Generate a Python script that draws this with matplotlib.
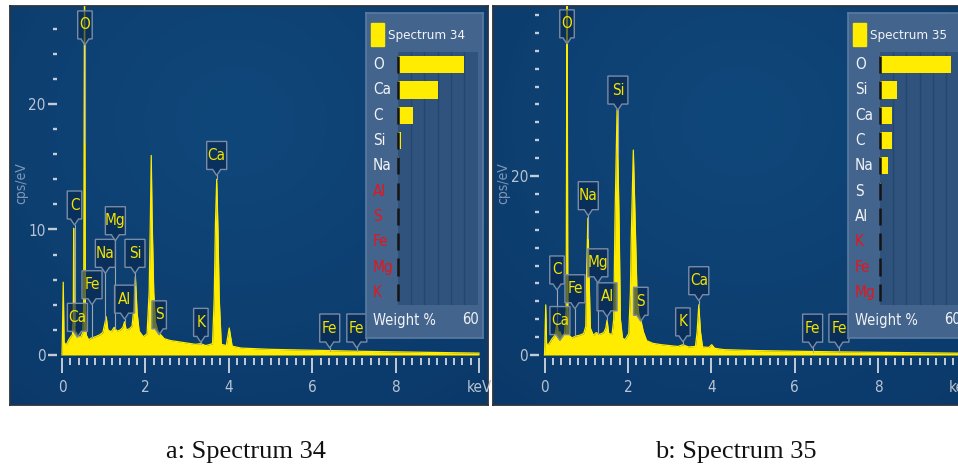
import matplotlib
matplotlib.use('Agg')
import matplotlib.pyplot as plt
import numpy as np
from matplotlib import font_manager
from matplotlib.patches import Polygon, Rectangle

# narrow UI font if the condensed DejaVu face is there, else Liberation Sans
_cond = font_manager.findfont(font_manager.FontProperties(family='DejaVu Sans', stretch='condensed'))
if 'Condensed' in _cond:
    plt.rcParams['font.family'] = ['DejaVu Sans']
    plt.rcParams['font.stretch'] = 'condensed'
else:
    plt.rcParams['font.family'] = ['Liberation Sans', 'DejaVu Sans']

W, H = 958, 469

# ---- Spectrum 34 (keV, cps/eV) ----
energy_34 = [0.00, 0.01, 0.03, 0.05, 0.10, 0.16, 0.22, 0.25, 0.27, 0.28, 0.29, 0.31,
             0.34, 0.38, 0.44, 0.50, 0.52, 0.54, 0.56, 0.58, 0.64, 0.70, 0.80, 0.90,
             0.98, 1.02, 1.06, 1.10, 1.18, 1.25, 1.32, 1.40, 1.46, 1.50, 1.54, 1.62,
             1.68, 1.72, 1.76, 1.80, 1.85, 1.95, 2.04, 2.09, 2.12, 2.14, 2.16, 2.20,
             2.24, 2.30, 2.37, 2.45, 2.60, 2.80, 3.00, 3.20, 3.32, 3.45, 3.61, 3.65,
             3.68, 3.71, 3.74, 3.77, 3.82, 3.94, 4.01, 4.08, 4.30, 5.00, 6.00, 6.43,
             7.06, 8.00, 9.00, 10.0]
cps_34 = [0.0, 1.5, 5.8, 1.0, 0.8, 1.2, 1.5, 1.6, 3.0, 10.1, 3.0, 1.8,
          1.8, 1.5, 1.4, 1.8, 4.0, 30.0, 4.0, 1.6, 1.2, 1.35, 1.45, 1.6,
          1.8, 2.4, 3.05, 2.0, 1.85, 2.2, 1.9, 2.0, 2.2, 2.65, 2.0, 2.1,
          2.3, 3.6, 6.25, 3.4, 1.9, 1.45, 1.7, 5.0, 11.0, 15.9, 11.0, 5.0,
          2.6, 1.9, 1.6, 1.3, 1.15, 1.05, 0.95, 0.85, 0.9, 0.75, 0.9, 4.5,
          10.5, 14.0, 10.0, 4.5, 0.85, 0.75, 2.15, 0.7, 0.55, 0.45, 0.38, 0.35,
          0.3, 0.25, 0.2, 0.15]

# ---- Spectrum 35 ----
energy_35 = [0.00, 0.01, 0.03, 0.05, 0.10, 0.18, 0.25, 0.30, 0.33, 0.37, 0.42, 0.48,
             0.52, 0.54, 0.56, 0.59, 0.66, 0.74, 0.84, 0.94, 0.99, 1.01, 1.04, 1.07,
             1.10, 1.17, 1.24, 1.32, 1.42, 1.47, 1.50, 1.54, 1.62, 1.66, 1.69, 1.74,
             1.79, 1.82, 1.87, 1.93, 2.02, 2.06, 2.08, 2.13, 2.19, 2.22, 2.26, 2.31,
             2.37, 2.45, 2.60, 2.80, 3.00, 3.20, 3.32, 3.45, 3.62, 3.66, 3.70, 3.74,
             3.79, 3.94, 4.01, 4.08, 4.30, 5.00, 6.00, 7.00, 8.00, 9.00, 10.0]
cps_35 = [0.0, 1.5, 5.6, 1.2, 1.2, 1.8, 2.2, 3.6, 2.4, 2.6, 2.0, 2.4,
          5.0, 45.0, 5.0, 2.2, 1.9, 2.1, 2.2, 2.4, 3.2, 9.0, 15.3, 8.5,
          3.0, 2.2, 2.5, 2.3, 2.5, 3.0, 3.9, 2.4, 2.3, 4.0, 15.0, 27.4,
          14.5, 4.0, 1.9, 1.7, 2.4, 7.0, 13.0, 22.9, 12.0, 6.5, 4.6, 3.9,
          2.6, 1.6, 1.3, 1.15, 1.05, 0.95, 1.15, 0.9, 0.95, 2.6, 5.6, 2.6,
          0.9, 0.85, 1.15, 0.75, 0.6, 0.5, 0.42, 0.35, 0.3, 0.25, 0.2]

# ---- peak markers: element, box centre (keV), box centre (cps/eV) ----
marks_34 = ['O', 'C', 'Ca', 'Fe', 'Na', 'Mg', 'Al', 'Si', 'S', 'K', 'Ca', 'Fe', 'Fe']
mark_kev_34 = [0.55, 0.30, 0.37, 0.72, 1.04, 1.28, 1.50, 1.75, 2.33, 3.33, 3.71, 6.42, 7.07]
mark_y_34 = [26.3, 11.95, 3.0, 5.6, 8.1, 10.7, 4.45, 8.1, 3.2, 2.6, 15.9, 2.15, 2.15]

marks_35 = ['O', 'Si', 'Na', 'C', 'Mg', 'Fe', 'Al', 'S', 'Ca', 'K', 'Ca', 'Fe', 'Fe']
mark_kev_35 = [0.54, 1.76, 1.05, 0.30, 1.28, 0.73, 1.50, 2.31, 0.37, 3.32, 3.70, 6.43, 7.06]
mark_y_35 = [37.0, 29.6, 17.8, 9.5, 10.3, 7.4, 6.5, 6.0, 3.85, 3.7, 8.3, 3.0, 3.0]

# ---- weight % tables ----
wt_elem_34 = ['O', 'Ca', 'C', 'Si', 'Na', 'Al', 'S', 'Fe', 'Mg', 'K']
wt_34 = [50.0, 30.5, 11.7, 2.1, 0.6, 0, 0, 0, 0, 0]
flagged_34 = ['Al', 'S', 'Fe', 'Mg', 'K']

wt_elem_35 = ['O', 'Si', 'Ca', 'C', 'Na', 'S', 'Al', 'K', 'Fe', 'Mg']
wt_35 = [53.3, 13.2, 9.5, 9.5, 6.5, 1.2, 0.5, 0, 0, 0]
flagged_35 = ['K', 'Fe', 'Mg']

YELLOW = '#ffec00'
TICK_C = '#c3cbd6'
LAB_C = '#b9c4d2'
FS = 11

fig = plt.figure(figsize=(W / 100, H / 100), dpi=100)
fig.patch.set_facecolor('white')


def px_axes(l, t, r, b):
    return fig.add_axes([l / W, 1 - b / H, (r - l) / W, (b - t) / H])


def fig_xy(x, y):
    return x / W, 1 - y / H


def background(l, t, r, b, cx, cy):
    bg = px_axes(l, t, r, b)
    yy, xx = np.mgrid[0:int(b - t), 0:int(r - l)]
    rr = np.hypot(xx - cx, (yy - cy) * 1.1)
    k = np.clip(rr / 420, 0, 1)
    k = 0.6 * k + 0.4 * np.floor(k * 7) / 7
    inner = np.array([0x10, 0x47, 0x7a]) / 255
    outer = np.array([0x0a, 0x37, 0x68]) / 255
    img = inner[None, None, :] * (1 - k[..., None]) + outer[None, None, :] * k[..., None]
    bg.imshow(img, aspect='auto', interpolation='bilinear')
    bg.set_xticks([])
    bg.set_yticks([])
    for s in bg.spines.values():
        s.set_color('#2b3540')
        s.set_linewidth(1.3)


def panel(energy, cps, marks, mark_kev, mark_y, wt_elem, wt, flagged, title,
          zero_px, ppy, ymax_tick, ylabels, right_px, legend_left):
    ppx = 41.7
    base_px = 355
    l_px, t_px, b_px = zero_px - 5.2, 6, 358
    ax = px_axes(l_px, t_px, right_px, b_px)
    ax.set_facecolor('none')
    ax.set_xlim((l_px - zero_px) / ppx, (right_px - zero_px) / ppx)
    ax.set_ylim(-(b_px - base_px) / ppy, (base_px - t_px) / ppy)
    for s in ax.spines.values():
        s.set_visible(False)

    ax.fill_between(energy, 0, cps, color=YELLOW, lw=0, zorder=2)
    ax.plot(energy, cps, color=YELLOW, lw=0.9, zorder=2)

    ax.set_xticks([0, 2, 4, 6, 8, 10], ['0', '2', '4', '6', '8', 'keV'])
    ax.set_xticks(np.arange(0, 10.01, 0.2), minor=True)
    ax.set_yticks(ylabels, [str(v) for v in ylabels])
    ax.set_yticks(np.arange(0, ymax_tick + 0.1, 2), minor=True)
    ax.tick_params(axis='x', which='major', direction='out', length=11, width=1.4,
                   color=TICK_C, pad=5, labelsize=FS, labelcolor=LAB_C)
    ax.tick_params(axis='x', which='minor', direction='out', length=5, width=1.4, color=TICK_C)
    ax.tick_params(axis='y', which='major', direction='out', length=6.5, width=1.7,
                   color=TICK_C, pad=1.5, labelsize=FS, labelcolor=LAB_C)
    ax.tick_params(axis='y', which='minor', direction='out', length=3.2, width=1.7, color=TICK_C)

    # peak markers
    for name, e, yc in zip(marks, mark_kev, mark_y):
        bw = 9 + 5.5 * len(name)
        hw, hh = bw / 2 / ppx, 14 / ppy
        top, bot = yc + hh, yc - hh
        tip = bot - 6 / ppy
        pw = 4 / ppx
        verts = [(e - hw, top), (e + hw, top), (e + hw, bot), (e + pw, bot),
                 (e, tip), (e - pw, bot), (e - hw, bot)]
        ax.add_patch(Polygon(verts, closed=True, facecolor=(0.03, 0.15, 0.30, 0.62),
                             edgecolor='#7a8ca6', lw=1.0, zorder=4))
        ax.text(e, yc, name, color='#f4e400', ha='center', va='center',
                fontsize=FS, zorder=5)
        ys = np.interp(e, energy, cps)
        if ys < tip:
            ax.plot([e, e], [ys, tip], color='#9ea6ae', lw=0.8, zorder=3)

    # y label
    fig.text(*fig_xy(zero_px - 41, 183), 'cps/eV', rotation=90, color='#7f97b6',
             fontsize=10, ha='center', va='center')

    # legend box with weight %
    lg = px_axes(legend_left, 13, legend_left + 117, 338)
    lg.set_facecolor('#43648c')
    lg.set_xticks([])
    lg.set_yticks([])
    for s in lg.spines.values():
        s.set_color('#5b7ba2')
        s.set_linewidth(1.2)

    bx_l = legend_left + 31.7
    bx = px_axes(bx_l, 52, bx_l + 80, 305)
    bx.set_facecolor('#30537d')
    rows = np.arange(len(wt))
    bx.barh(rows, wt, height=0.68, color=YELLOW, zorder=3)
    bx.vlines(np.full(len(rows), 0.4), rows - 0.34, rows + 0.34, color='#141414',
              lw=1.8, zorder=4, clip_on=False)
    bx.set_xlim(0, 60)
    bx.set_ylim(len(wt) - 0.5, -0.5)
    bx.set_xticks(np.arange(10, 60, 10))
    bx.set_yticks([])
    bx.grid(axis='x', color='#24466f', lw=1.0)
    bx.tick_params(axis='x', length=0, labelbottom=False)
    for s in bx.spines.values():
        s.set_visible(False)
    for i, name in enumerate(wt_elem):
        bx.text(-(bx_l - legend_left - 7) / 80, i, name,
                transform=bx.get_yaxis_transform(), ha='left', va='center',
                fontsize=FS, color='#e8141c' if name in flagged else '#f2f4f7')

    fig.add_artist(Rectangle(fig_xy(legend_left + 5, 46), 13 / W, 23 / H,
                             transform=fig.transFigure, color=YELLOW))
    fig.text(*fig_xy(legend_left + 22, 36), title, color='#f2f4f7', fontsize=9.5,
             ha='left', va='center')
    fig.text(*fig_xy(legend_left + 7, 320), 'Weight %', color='#f2f4f7', fontsize=10.5,
             ha='left', va='center')
    fig.text(*fig_xy(legend_left + 113, 320), '60', color='#f2f4f7', fontsize=10.5,
             ha='right', va='center')


background(10, 6, 488, 405, 225, 115)
panel(energy_34, cps_34, marks_34, mark_kev_34, mark_y_34, wt_elem_34, wt_34,
      flagged_34, 'Spectrum 34', 62.0, 12.55, 26, [0, 10, 20], 483, 366)

background(493, 6, 962, 405, 248, 115)
panel(energy_35, cps_35, marks_35, mark_kev_35, mark_y_35, wt_elem_35, wt_35,
      flagged_35, 'Spectrum 35', 544.5, 8.95, 38, [0, 20], 965, 848)

fig.text(*fig_xy(246, 452), 'a: Spectrum 34', family='Liberation Serif', fontsize=19,
         stretch='normal', ha='center', va='center', color='#111111')
fig.text(*fig_xy(736, 452), 'b: Spectrum 35', family='Liberation Serif', fontsize=19,
         stretch='normal', ha='center', va='center', color='#111111')

fig.savefig('out.png', dpi=100, facecolor='white')
